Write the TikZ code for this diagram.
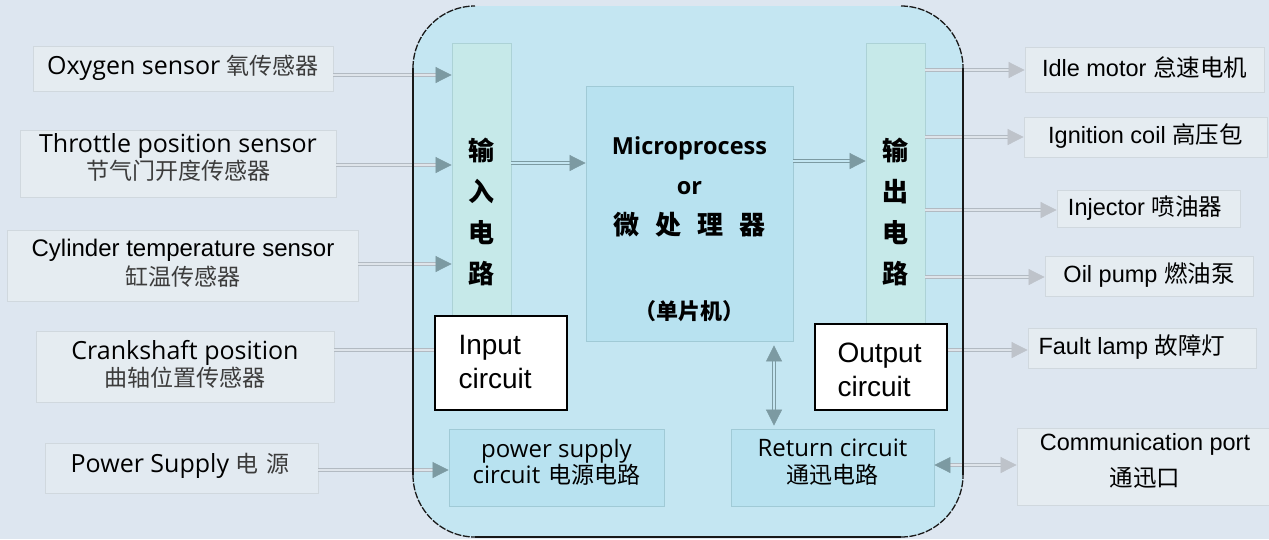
\documentclass[tikz,border=0pt]{standalone}
\usepackage{fontspec}
\setmainfont{Open Sans}
\newfontfamily\cjk{Noto Sans CJK SC}
\newfontfamily\arial{Liberation Sans}
\usetikzlibrary{arrows.meta}
\definecolor{bg}{RGB}{221,230,240}
\definecolor{mainfill}{RGB}{196,230,242}
\definecolor{colfill}{RGB}{198,233,233}
\definecolor{colbord}{RGB}{172,210,214}
\definecolor{microfill}{RGB}{184,226,240}
\definecolor{microbord}{RGB}{160,202,214}
\definecolor{lfill}{RGB}{229,236,241}
\definecolor{lbord}{RGB}{208,216,222}
\definecolor{shaft}{RGB}{178,186,194}
\definecolor{shaftin}{RGB}{222,228,234}
\definecolor{tipT}{RGB}{124,154,162}
\definecolor{tipL}{RGB}{190,195,202}
\definecolor{cjkgray}{RGB}{60,60,60}
\definecolor{edge}{RGB}{25,25,25}
\tikzset{
  lbox/.style={draw=lbord, fill=lfill, inner sep=0pt, line width=0.8pt},
  colbox/.style={draw=colbord, fill=colfill, inner sep=0pt, line width=0.8pt},
  mbox/.style={draw=microbord, fill=microfill, inner sep=0pt, line width=0.8pt},
  wbox/.style={draw=black, fill=white, inner sep=0pt, line width=1.2pt},
  lfont/.style={font=\fontsize{25}{28}\selectfont, align=center},
  rfont/.style={font=\arial\fontsize{23.5}{28}\selectfont, align=center},
  shaftline/.style={draw=shaft, double=shaftin, line width=0.7pt, double distance=1.8pt},
  arrIn/.style={shaftline, -{Triangle[length=16pt,width=16pt,color=tipT]}},
  arrInner/.style={draw=tipT, double=mainfill, line width=0.7pt, double distance=1.8pt, -{Triangle[length=16pt,width=16pt,color=tipT]}},
  arrBoth/.style={draw=tipT, double=mainfill, line width=0.7pt, double distance=1.8pt, {Triangle[length=16pt,width=16pt,color=tipT]}-{Triangle[length=16pt,width=16pt,color=tipT]}},
  arrOut/.style={shaftline, -{Triangle[length=16pt,width=16pt,color=tipL]}},
  arrComm/.style={shaftline, {Triangle[length=16pt,width=16pt,color=tipT]}-{Triangle[length=16pt,width=16pt,color=tipL]}},
}
\begin{document}
\begin{tikzpicture}[x=1pt,y=-1pt]
\useasboundingbox (0,0) rectangle (1269,539);
\fill[bg] (0,0) rectangle (1269,539);
% main rounded box fill
\fill[mainfill, rounded corners=62pt] (413,6) rectangle (963,537);

% left sensor boxes
\node[lbox, minimum width=300, minimum height=45] (oxy) at (183,68.5) {};
\node[lfont] (oxyt) at (183,68) {Oxygen sensor {\cjk\fontsize{23}{28}\selectfont\color{cjkgray}氧传感器}};
\node[lbox, minimum width=316, minimum height=67] (thr) at (178,163.5) {};
\node[lfont] (thrt) at (178,157) {Throttle position sensor\\[-1pt]{\cjk\fontsize{23}{28}\selectfont\color{cjkgray}节气门开度传感器}};
\node[lbox, minimum width=351, minimum height=71] (cyl) at (182.5,265.5) {};
\node[lfont, font=\arial\fontsize{24}{29}\selectfont] (cylt) at (183,263) {Cylinder temperature sensor\\{\cjk\fontsize{23}{28}\selectfont\color{cjkgray}缸温传感器}};
\node[lbox, minimum width=298, minimum height=71] (crank) at (185,366.5) {};
\node[lfont] (crankt) at (185,364) {Crankshaft position\\[-1pt]{\cjk\fontsize{23}{28}\selectfont\color{cjkgray}曲轴位置传感器}};
\node[lbox, minimum width=273, minimum height=50, fill=lfill!60!bg] (psup) at (181.5,468) {};
\node[lfont] (psupt) at (180,466) {Power Supply {\cjk\fontsize{23}{28}\selectfont\color{cjkgray}电\,\,源}};

% input / output columns
\node[colbox, minimum width=59, minimum height=276] (incol) at (481.5,181) {};
\node[font=\cjk\bfseries\fontsize{26}{41}\selectfont, align=center] (incolt) at (481.5,212) {输\\入\\电\\路};
\node[colbox, minimum width=59, minimum height=280] (outcol) at (895.5,183) {};
\node[font=\cjk\bfseries\fontsize{26}{41}\selectfont, align=center] (outcolt) at (895.5,212) {输\\出\\电\\路};

% microprocessor
\node[mbox, minimum width=207, minimum height=255] (micro) at (689.5,213.5) {};
\node[font=\bfseries\fontsize{23.5}{40}\selectfont, align=center] (microt) at (689.5,187) {Microprocess\\or\\{\cjk\fontsize{26}{40}\selectfont 微\hspace{16pt}处\hspace{16pt}理\hspace{16pt}器}};
\node[font=\cjk\bfseries\fontsize{22}{26}\selectfont] (mcu) at (689.5,311) {（单片机）};

% input / output circuit boxes
\node[wbox, minimum width=132, minimum height=94] (inbox) at (501,363) {};
\node[font=\arial\fontsize{28}{34}\selectfont, align=left, anchor=west] (inboxt) at (455,362) {Input\\circuit};
\node[wbox, minimum width=132, minimum height=86] (outbox) at (881,367) {};
\node[font=\arial\fontsize{28}{34}\selectfont, align=left, anchor=west] (outboxt) at (834,370) {Output\\circuit};

% power supply circuit and return circuit
\node[mbox, minimum width=215, minimum height=77] (pscirc) at (556.5,467.5) {};
\node[font=\fontsize{24}{26}\selectfont, align=center] (psct) at (556.5,462) {power supply\\circuit\,\,{\cjk\fontsize{23}{26}\selectfont 电源电路}};
\node[mbox, minimum width=203, minimum height=77] (retcirc) at (832.5,467.5) {};
\node[font=\fontsize{24}{27}\selectfont, align=center] (rett) at (832.5,462) {Return circuit\\{\cjk\fontsize{23}{27}\selectfont 通迅电路}};

% right actuator boxes
\node[lbox, minimum width=239, minimum height=45] (idle) at (1144.5,69.5) {};
\node[rfont] (idlet) at (1144.5,68) {Idle motor {\cjk\fontsize{23.5}{28}\selectfont 怠速电机}};
\node[lbox, minimum width=243, minimum height=40] (ign) at (1145.5,137) {};
\node[rfont] (ignt) at (1145.5,136) {Ignition coil {\cjk\fontsize{23.5}{28}\selectfont 高压包}};
\node[lbox, minimum width=183, minimum height=37] (inj) at (1148.5,209) {};
\node[rfont] (injt) at (1145,208) {Injector {\cjk\fontsize{23.5}{28}\selectfont 喷油器}};
\node[lbox, minimum width=208, minimum height=40] (oil) at (1149,276) {};
\node[rfont] (oilt) at (1149,275) {Oil pump {\cjk\fontsize{23.5}{28}\selectfont 燃油泵}};
\node[lbox, minimum width=228, minimum height=40] (fault) at (1142,348) {};
\node[rfont, anchor=west] (faultt) at (1035,347) {Fault lamp {\cjk\fontsize{23.5}{28}\selectfont 故障灯}};
\node[lbox, minimum width=256, minimum height=77] (comm) at (1145,466.5) {};
\node[rfont, font=\arial\fontsize{23.5}{36}\selectfont] (commt) at (1145,461) {Communication port\\{\cjk\fontsize{23.5}{36}\selectfont 通迅口}};

% connectors
\draw[arrIn] (oxy.east |- 0,75) -- (incol.west |- 0,75);
\draw[arrIn] (thr.east |- 0,165) -- (incol.west |- 0,165);
\draw[arrIn] (cyl.east |- 0,264) -- (incol.west |- 0,264);
\draw[shaftline] (crank.east |- 0,350) -- (inbox.west |- 0,350);
\draw[arrIn] (psup.east |- 0,470) -- (pscirc.west |- 0,470);
\draw[arrInner] (incol.east |- 0,163) -- (micro.west |- 0,163);
\draw[arrInner] (micro.east |- 0,161) -- (outcol.west |- 0,161);
\draw[arrBoth, shorten <=4pt, shorten >=3pt] (micro.south -| 774,0) -- (retcirc.north -| 774,0);
\draw[arrOut] (outcol.east |- 0,70) -- (idle.west |- 0,70);
\draw[arrOut] (outcol.east |- 0,137) -- (ign.west |- 0,137);
\draw[arrOut] (outcol.east |- 0,210) -- (inj.west |- 0,210);
\draw[arrOut] (outcol.east |- 0,277) -- (oil.west |- 0,277);
\draw[arrOut] (outbox.east |- 0,350) -- (fault.west |- 0,350);
\draw[arrComm] (retcirc.east |- 0,465) -- (comm.west |- 0,465);

% main box border
\draw[edge, line width=1.5pt] (413,68) -- (413,475);
\draw[edge, line width=1.5pt] (963,68) -- (963,475);
\draw[edge, line width=1.5pt] (475,537) -- (901,537);
\draw[edge, line width=1.3pt, dash pattern=on 7pt off 1.5pt] (413,68) .. controls (413,33.8) and (441,6) .. (475,6);
\draw[edge, line width=1.3pt, dash pattern=on 7pt off 1.5pt] (901,6) .. controls (935,6) and (963,33.8) .. (963,68);
\draw[edge, line width=1.3pt, dash pattern=on 7pt off 1.5pt] (413,475) .. controls (413,509) and (441,537) .. (475,537);
\draw[edge, line width=1.3pt, dash pattern=on 7pt off 1.5pt] (901,537) .. controls (935,537) and (963,509) .. (963,475);
\end{tikzpicture}
\end{document}
